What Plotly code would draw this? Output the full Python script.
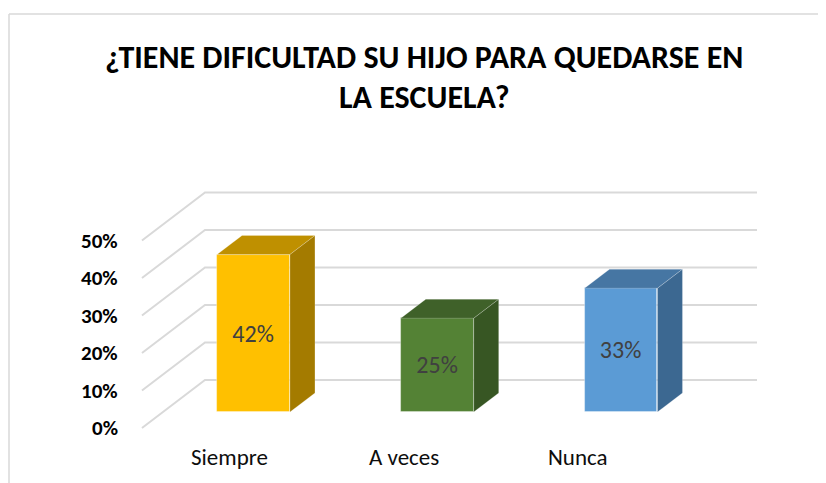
import plotly.graph_objects as go

# ---------------- data ----------------
categories = ["Siempre", "A veces", "Nunca"]
values = [42, 25, 33]
value_labels = ["42%", "25%", "33%"]
tick_values = [0, 10, 20, 30, 40, 50]
tick_labels = ["0%", "10%", "20%", "30%", "40%", "50%"]
title_lines = ["¿TIENE DIFICULTAD SU HIJO PARA QUEDARSE EN", "LA ESCUELA?"]

# ---------------- style ----------------
front_colors = ["#FFC000", "#548235", "#5B9BD5"]
top_colors = ["#BF9000", "#3F6129", "#4676A3"]
side_colors = ["#A47B00", "#375623", "#3C6891"]
GRID = "#D9D9D9"
FONT = "Calibri, Carlito, Liberation Sans, Arial, sans-serif"

W, H = 826, 483
OFF = 8                                   # page body margin
L, R, T, B = 130, 800, 150, 470          # plot-area in page pixels
PX_X0, PX_PER_X = 253.5, 183.75          # pixel of x=0, pixels per category
PX_Y0, PX_PER_Y = 412.0, 3.75            # pixel of y=0 (front plane), pixels per %
X_RANGE = [(L - PX_X0) / PX_PER_X, (R - PX_X0) / PX_PER_X]
Y_RANGE = [(PX_Y0 - B) / PX_PER_Y, (PX_Y0 - T) / PX_PER_Y]

BAR_W = 0.397                     # front face width (category units)
DEPTH_DX, DEPTH_DY = 0.136, 5.07  # bar depth projection
WALL_X0, WALL_X1, WALL_DY = -0.264, 2.740, 8.53   # back wall relative to bar front plane
FLOOR_X, FLOOR_DY = -0.607, -4.27                 # front edge of floor
LABEL_X0, LABEL_STEP, LABEL_Y = -0.128, 0.947, -12.0
TICK_PX = 120


def paper_x(px):
    return (px - L) / (R - L)


def paper_y(py):
    return (B - py) / (B - T)


fig = go.Figure()

# front faces (real bars)
fig.add_trace(go.Bar(
    x=list(range(len(categories))), y=values, width=BAR_W,
    marker=dict(color=front_colors, line=dict(color="rgba(255,255,255,0.45)", width=0.8)),
    text=value_labels, textposition="inside", insidetextanchor="middle",
    textfont=dict(family=FONT, size=24, color="#404040"),
    constraintext="none", hoverinfo="skip", showlegend=False,
))

# top and side faces, projected from the same values
for i, v in enumerate(values):
    x0, x1 = i - BAR_W / 2, i + BAR_W / 2
    fig.add_trace(go.Scatter(
        x=[x0, x1, x1 + DEPTH_DX, x0 + DEPTH_DX, x0],
        y=[v, v, v + DEPTH_DY, v + DEPTH_DY, v],
        fill="toself", fillcolor=top_colors[i], mode="lines",
        line=dict(color="rgba(255,255,255,0.35)", width=0.6),
        hoverinfo="skip", showlegend=False,
    ))
    fig.add_trace(go.Scatter(
        x=[x1, x1 + DEPTH_DX, x1 + DEPTH_DX, x1, x1],
        y=[0, DEPTH_DY, v + DEPTH_DY, v, 0],
        fill="toself", fillcolor=side_colors[i], mode="lines",
        line=dict(color="rgba(255,255,255,0.35)", width=0.6),
        hoverinfo="skip", showlegend=False,
    ))

shapes = []
# back wall gridlines + floor/side diagonals
for tv in tick_values:
    yb = tv + WALL_DY
    yf = tv + FLOOR_DY
    shapes.append(dict(
        type="path", xref="x", yref="y", layer="below",
        path=f"M {FLOOR_X},{yf} L {WALL_X0},{yb} L {WALL_X1},{yb}",
        line=dict(color=GRID, width=2),
    ))

# chart border (top and left edges visible)
shapes.append(dict(type="line", xref="paper", yref="paper",
                   x0=paper_x(9), x1=paper_x(W + 10), y0=paper_y(14), y1=paper_y(14),
                   line=dict(color=GRID, width=1.5)))
shapes.append(dict(type="line", xref="paper", yref="paper",
                   x0=paper_x(9), x1=paper_x(9), y0=paper_y(14), y1=paper_y(H + 10),
                   line=dict(color=GRID, width=1.5)))

annotations = []
# y tick labels at the front edge of the floor
for tv, tl in zip(tick_values, tick_labels):
    annotations.append(dict(
        x=paper_x(TICK_PX), y=tv + FLOOR_DY, xref="paper", yref="y", text=tl,
        showarrow=False, xanchor="right", yanchor="middle",
        font=dict(family=FONT, size=21, color="#000000", weight="bold"),
    ))
# category labels
for i, c in enumerate(categories):
    annotations.append(dict(
        x=LABEL_X0 + i * LABEL_STEP, y=LABEL_Y, xref="x", yref="y", text=c,
        showarrow=False, xanchor="center", yanchor="middle",
        font=dict(family=FONT, size=23, color="#0D0D0D"),
    ))
# title
for line, py in zip(title_lines, [57, 97]):
    annotations.append(dict(
        x=paper_x(424), y=paper_y(py), xref="paper", yref="paper", text=line,
        showarrow=False, xanchor="center", yanchor="middle",
        font=dict(family=FONT, size=32, color="#000000", weight="bold"),
    ))

fig.update_layout(
    width=W - OFF, height=H - OFF,
    margin=dict(l=L - OFF, r=W - R, t=T - OFF, b=H - B, pad=0),
    paper_bgcolor="white", plot_bgcolor="white",
    xaxis=dict(range=X_RANGE, visible=False, fixedrange=True),
    yaxis=dict(range=Y_RANGE, visible=False, fixedrange=True),
    shapes=shapes, annotations=annotations,
    bargap=0, showlegend=False,
)

fig.write_html("out.html", config={"displayModeBar": False})
